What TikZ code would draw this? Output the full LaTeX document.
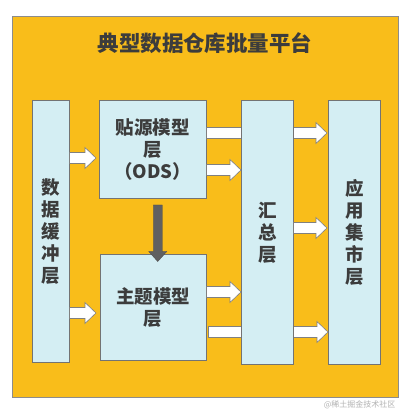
\documentclass[tikz,border=0pt]{standalone}
\usepackage{fontspec}
\setmainfont{Noto Sans CJK SC}
\usetikzlibrary{calc}
\definecolor{bgorange}{HTML}{F9BD1A}
\definecolor{boxblue}{HTML}{D4EEF3}
\definecolor{txtgray}{HTML}{3C3C3C}
\definecolor{arrgray}{HTML}{606060}
\tikzset{
  panel/.style={draw=black!45, line width=0.6pt, fill=bgorange, anchor=south west, inner sep=0pt},
  layerbox/.style={draw=black!55, line width=0.5pt, fill=boxblue, anchor=south west, inner sep=0pt,
    text=txtgray, align=center, font=\bfseries\fontsize{18.5}{22}\selectfont},
  blockarrow/.style={draw=black!50, line width=0.6pt, fill=white, line join=miter},
  downarrow/.style={fill=arrgray, draw=arrgray!80!black, line width=0.4pt}
}
\newcommand\harrow[3]{%
  \path[blockarrow] let \p1=(#1), \p2=(#2) in
    (\x1,#3+5.5) -- (\x2-11,#3+5.5) -- (\x2-11,#3+10.5) -- (\x2,#3) --
    (\x2-11,#3-10.5) -- (\x2-11,#3-5.5) -- (\x1,#3-5.5) -- cycle;}
\begin{document}
\begin{tikzpicture}[x=1pt,y=1pt]
\useasboundingbox (0,0) rectangle (403,413);
\fill[white] (0,0) rectangle (403,413);
\node[panel, minimum width=386pt, minimum height=381pt] (panel) at (12,15) {};
\node[text=txtgray, font=\bfseries\fontsize{21.5}{25}\selectfont] (title) at (205,370) {典型数据仓库批量平台};
% long arrows passing behind the summary layer
\coordinate (a3s) at (206,280);
\coordinate (a7s) at (208,81);
\node[layerbox, minimum width=37pt, minimum height=262pt] (buf) at (32,50) {数\\据\\缓\\冲\\层};
\node[layerbox, minimum width=107pt, minimum height=98pt] (ods) at (99,214) {贴源模型\\层\\（ODS）};
\node[layerbox, minimum width=106pt, minimum height=106pt] (theme) at (100,52) {主题模型\\层};
\node[layerbox, minimum width=52pt, minimum height=264pt] (app) at (328,48) {应\\用\\集\\市\\层};
\harrow{ods.east}{[xshift=-1pt]app.west}{280}
\harrow{[xshift=2pt]theme.east}{app.west}{81}
\node[layerbox, minimum width=52pt, minimum height=264pt] (sum) at (241,48) {汇\\总\\层};
\harrow{buf.east}{[xshift=-3pt]ods.west}{255}
\harrow{buf.east}{[xshift=-4pt]theme.west}{100}
\harrow{ods.east}{sum.west}{243}
\harrow{sum.east}{[xshift=-1pt]app.west}{185}
\harrow{theme.east}{sum.west}{121}
\path[downarrow] let \p1=(ods.south), \p2=(theme.north) in
  (\x1+0.5,\y1-6) -- (\x1+9.5,\y1-6) -- (\x1+9.5,\y2+3) -- (\x1+14,\y2+3) --
  (\x1+5,\y2-7) -- (\x1-4,\y2+3) -- (\x1+0.5,\y2+3) -- cycle;
\node[text=black!30, font=\fontsize{8}{9}\selectfont, anchor=east] (wm) at (399,8) {@稀土掘金技术社区};
\end{tikzpicture}
\end{document}
